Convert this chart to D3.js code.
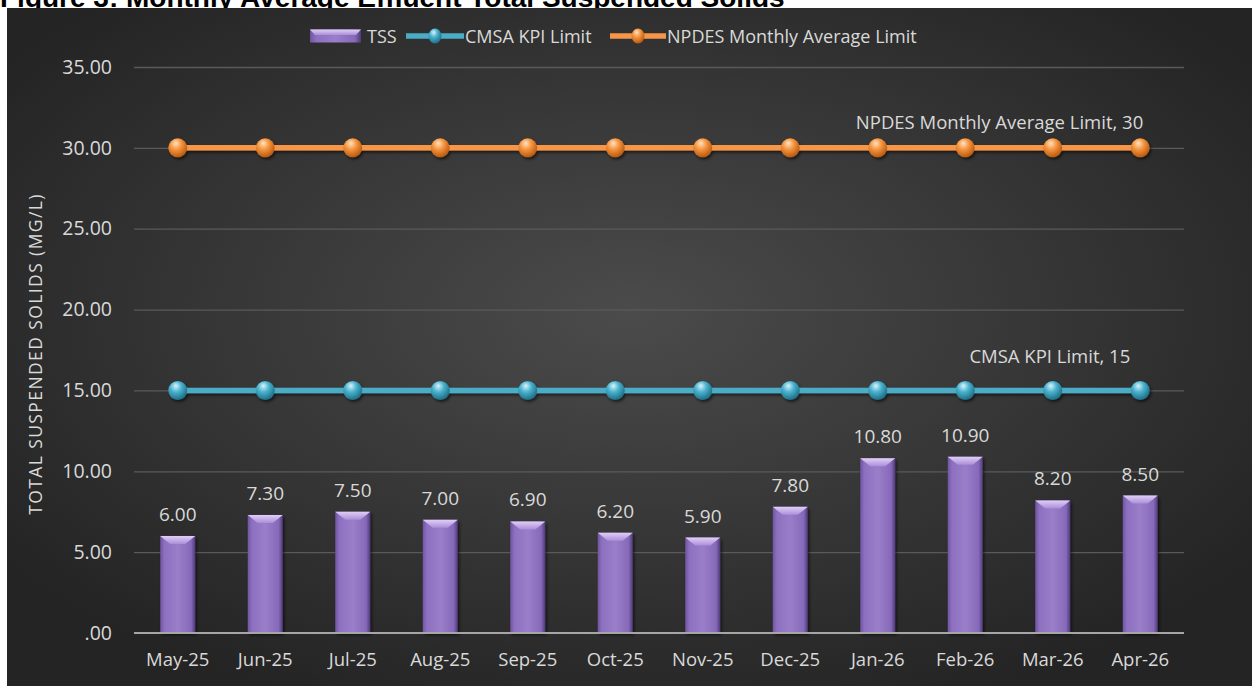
<!DOCTYPE html>
<html>
<head>
<meta charset="utf-8">
<script src="https://cdn.jsdelivr.net/npm/d3@7"></script>
<style>
  html, body { margin: 0; padding: 0; background: #fff; overflow: hidden; }
  svg { display: block; }
</style>
</head>
<body>
<div id="chart"></div>
<script>
// ── Data ─────────────────────────────────────────────────────
const months     = ['May-25', 'Jun-25', 'Jul-25', 'Aug-25', 'Sep-25', 'Oct-25',
                    'Nov-25', 'Dec-25', 'Jan-26', 'Feb-26', 'Mar-26', 'Apr-26'];
const tssValues  = [6.0, 7.3, 7.5, 7.0, 6.9, 6.2, 5.9, 7.8, 10.8, 10.9, 8.2, 8.5];
const kpiLimit   = [15, 15, 15, 15, 15, 15, 15, 15, 15, 15, 15, 15];
const npdesLimit = [30, 30, 30, 30, 30, 30, 30, 30, 30, 30, 30, 30];
const yTicks     = [0, 5, 10, 15, 20, 25, 30, 35];

const FONT = "'Open Sans', 'Noto Sans', sans-serif";
const TXT  = '#d9d9d9';
const CYAN = '#4bacc6';
const ORNG = '#f79646';

const width = 1252, height = 686;
const margin = { top: 67, right: 68, bottom: 53, left: 134 };
const innerW = width - margin.left - margin.right;
const innerH = height - margin.top - margin.bottom;

const svg = d3.select('#chart').append('svg')
  .attr('width', width).attr('height', height);

const defs = svg.append('defs');

// background radial gradient
const bg = defs.append('radialGradient').attr('id', 'bg')
  .attr('cx', '50%').attr('cy', '45%').attr('r', '62%');
bg.append('stop').attr('offset', '0%').attr('stop-color', '#4b4b4b');
bg.append('stop').attr('offset', '100%').attr('stop-color', '#242424');

// bar body gradient (horizontal)
const barGrad = defs.append('linearGradient').attr('id', 'barGrad')
  .attr('x1', '0%').attr('x2', '100%').attr('y1', '0%').attr('y2', '0%');
barGrad.append('stop').attr('offset', '0%').attr('stop-color', '#6f55a0');
barGrad.append('stop').attr('offset', '12%').attr('stop-color', '#8d70c0');
barGrad.append('stop').attr('offset', '50%').attr('stop-color', '#9a7ec9');
barGrad.append('stop').attr('offset', '88%').attr('stop-color', '#866aba');
barGrad.append('stop').attr('offset', '100%').attr('stop-color', '#4e3a78');

const bevelGrad = defs.append('linearGradient').attr('id', 'bevelGrad')
  .attr('x1', '0%').attr('x2', '0%').attr('y1', '0%').attr('y2', '100%');
bevelGrad.append('stop').attr('offset', '0%').attr('stop-color', '#e0cff7');
bevelGrad.append('stop').attr('offset', '100%').attr('stop-color', '#ab8ed8');

function sphere(id, light, mid, dark) {
  const gr = defs.append('radialGradient').attr('id', id)
    .attr('cx', '40%').attr('cy', '35%').attr('r', '65%')
    .attr('fx', '40%').attr('fy', '25%');
  gr.append('stop').attr('offset', '0%').attr('stop-color', light);
  gr.append('stop').attr('offset', '45%').attr('stop-color', mid);
  gr.append('stop').attr('offset', '100%').attr('stop-color', dark);
}
sphere('sphCyan', '#d8f4fb', '#4bb3cf', '#1f6f86');
sphere('sphOrng', '#fde3c6', '#f7963f', '#b85a12');

const shadow = defs.append('filter').attr('id', 'shadow')
  .attr('x', '-50%').attr('y', '-50%').attr('width', '200%').attr('height', '200%');
shadow.append('feDropShadow').attr('dx', 1.5).attr('dy', 2).attr('stdDeviation', 1.5)
  .attr('flood-color', '#000').attr('flood-opacity', 0.6);

// ── Title (cut off by the page edge, as in the source) + background ──
svg.append('text')
  .attr('x', 0).attr('y', 7)
  .attr('font-family', "'Liberation Sans', sans-serif")
  .attr('font-weight', 700).attr('font-size', 28).attr('fill', '#000')
  .text('Figure 3: Monthly Average Effluent Total Suspended Solids');

svg.append('rect').attr('x', 7).attr('y', 8).attr('width', width - 7).attr('height', height - 8)
  .attr('fill', 'url(#bg)');

const g = svg.append('g').attr('transform', `translate(${margin.left},${margin.top})`);

// ── Scales ──────────────────────────────────────────────────
const x = d3.scaleBand().domain(months).range([0, innerW]).padding(0);
const y = d3.scaleLinear().domain([0, 35]).range([innerH, 0]);
const cx = d => x(d) + x.bandwidth() / 2;

// ── Grid ────────────────────────────────────────────────────
g.append('g')
  .call(d3.axisLeft(y).tickValues(yTicks.slice(1)).tickSize(-innerW).tickFormat(''))
  .call(ax => ax.select('.domain').remove())
  .call(ax => ax.selectAll('line').attr('stroke', '#5a5a5a').attr('stroke-width', 1.3));

// y tick labels
g.append('g')
  .call(d3.axisLeft(y).tickValues(yTicks).tickSize(0).tickPadding(22)
    .tickFormat(d => d === 0 ? '.00' : d3.format('.2f')(d)))
  .call(ax => ax.select('.domain').remove())
  .call(ax => ax.selectAll('text').attr('fill', TXT).attr('font-size', 19.5).attr('font-family', FONT));

// y axis title
g.append('text')
  .attr('transform', 'rotate(-90)')
  .attr('x', -287).attr('y', -92)
  .attr('text-anchor', 'middle')
  .attr('fill', TXT).attr('font-size', 17.5).attr('letter-spacing', 1.4).attr('font-family', FONT)
  .text('TOTAL SUSPENDED SOLIDS (MG/L)');

// ── Bars ────────────────────────────────────────────────────
const barW = 35, bev = 10;
const bars = g.append('g').selectAll('g').data(months.map((m, i) => ({ m, v: tssValues[i] })))
  .join('g');

bars.append('rect')
  .attr('x', d => cx(d.m) - barW / 2).attr('y', d => y(d.v))
  .attr('width', barW).attr('height', d => innerH - y(d.v))
  .attr('fill', 'url(#barGrad)')
  .attr('filter', 'url(#shadow)');

bars.append('path')
  .attr('d', d => {
    const x0 = cx(d.m) - barW / 2, x1 = x0 + barW, y0 = y(d.v);
    return `M${x0},${y0}L${x1},${y0}L${x1 - bev},${y0 + 8}L${x0 + bev},${y0 + 8}Z`;
  })
  .attr('fill', 'url(#bevelGrad)');

bars.append('text')
  .attr('x', d => cx(d.m)).attr('y', d => y(d.v) - 15)
  .attr('text-anchor', 'middle')
  .attr('fill', TXT).attr('font-size', 19).attr('font-family', FONT)
  .text(d => d3.format('.2f')(d.v));

// ── X axis ──────────────────────────────────────────────────
g.append('line').attr('x1', 0).attr('x2', innerW).attr('y1', innerH).attr('y2', innerH)
  .attr('stroke', '#a6a6a6').attr('stroke-width', 2);

g.append('g').attr('transform', `translate(0,${innerH})`)
  .call(d3.axisBottom(x).tickSize(0).tickPadding(20))
  .call(ax => ax.select('.domain').remove())
  .call(ax => ax.selectAll('text').attr('fill', TXT).attr('font-size', 18.5).attr('font-family', FONT));

// ── Limit lines ─────────────────────────────────────────────
const lineGen = d3.line().x((d, i) => cx(months[i])).y(d => y(d));

function limitSeries(values, color, sph, label, dx, dy) {
  const lg = g.append('g').attr('filter', 'url(#shadow)');
  lg.append('path').datum(values)
    .attr('fill', 'none').attr('stroke', color).attr('stroke-width', 5.5)
    .attr('d', lineGen);
  lg.selectAll('circle').data(values).join('circle')
    .attr('cx', (d, i) => cx(months[i])).attr('cy', d => y(d))
    .attr('r', 9.5).attr('fill', `url(#${sph})`);
  const last = values.length - 1;
  g.append('text')
    .attr('x', cx(months[last]) + dx).attr('y', y(values[last]) + dy)
    .attr('text-anchor', 'end')
    .attr('fill', TXT).attr('font-size', 18.5).attr('font-family', FONT)
    .text(`${label}, ${values[last]}`);
}
limitSeries(kpiLimit, CYAN, 'sphCyan', 'CMSA KPI Limit', -10, -27);
limitSeries(npdesLimit, ORNG, 'sphOrng', 'NPDES Monthly Average Limit', 3, -19);

// ── Legend ──────────────────────────────────────────────────
const legend = svg.append('g').attr('transform', 'translate(310,36)');
legend.append('rect').attr('x', 0).attr('y', -6.5).attr('width', 51).attr('height', 13)
  .attr('fill', 'url(#barGrad)');
legend.append('path').attr('d', 'M0,-6.5L51,-6.5L46,-1L5,-1Z').attr('fill', 'url(#bevelGrad)');
legend.append('text').attr('x', 57).attr('y', 6.5)
  .attr('fill', TXT).attr('font-size', 18).attr('font-family', FONT).text('TSS');

const legItems = [
  { x: 96,  w: 58, color: CYAN, sph: 'sphCyan', label: 'CMSA KPI Limit' },
  { x: 300, w: 56, color: ORNG, sph: 'sphOrng', label: 'NPDES Monthly Average Limit' },
];
legItems.forEach(it => {
  legend.append('line').attr('x1', it.x).attr('x2', it.x + it.w).attr('y1', 0).attr('y2', 0)
    .attr('stroke', it.color).attr('stroke-width', 5.5);
  legend.append('ellipse').attr('cx', it.x + it.w / 2).attr('cy', 0).attr('rx', 6.5).attr('ry', 7.5)
    .attr('fill', `url(#${it.sph})`);
  legend.append('text').attr('x', it.x + it.w + 1).attr('y', 6.5)
    .attr('fill', TXT).attr('font-size', 18).attr('font-family', FONT).text(it.label);
});
</script>
</body>
</html>
